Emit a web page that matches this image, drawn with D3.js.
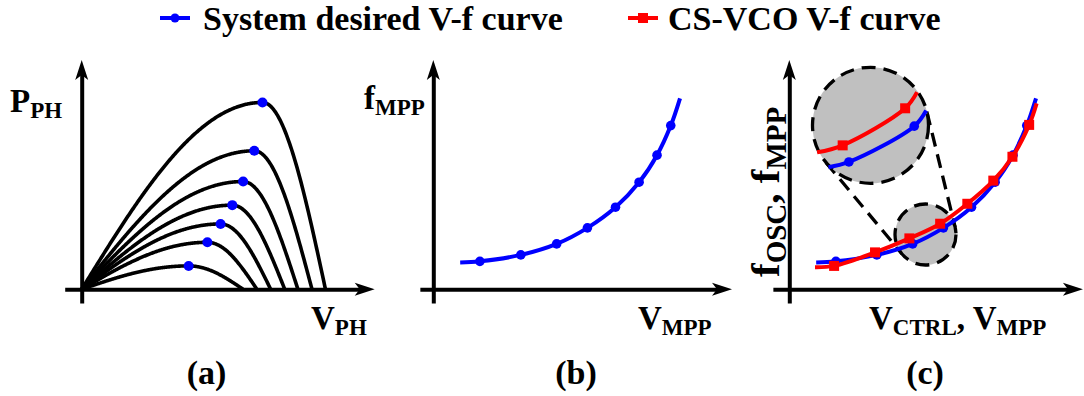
<!DOCTYPE html>
<html>
<head>
<meta charset="utf-8">
<script src="https://cdn.jsdelivr.net/npm/d3@7"></script>
<style>
  html, body { margin: 0; padding: 0; background: #fff; }
  svg { display: block; }
  text { font-family: "Liberation Serif", "Times New Roman", serif; font-weight: bold; fill: #000; }
</style>
</head>
<body>
<svg id="chart" width="1084" height="396"></svg>
<script>
// ---------- data (normalised units, 0..1 on each axis) ----------
// (a) P-V curves of the harvester at several irradiance levels
const pvOpenCircuitV = [0.551, 0.598, 0.645, 0.693, 0.738, 0.786, 0.832];
const pvMppV         = [0.365, 0.429, 0.474, 0.514, 0.551, 0.589, 0.617];
const pvMppP         = [0.102, 0.205, 0.285, 0.367, 0.470, 0.604, 0.815];

// (b)/(c) system desired V-f curve (first/last entries are line ends without markers)
const desiredV = [0.090, 0.156, 0.293, 0.413, 0.516, 0.610, 0.689, 0.749, 0.795, 0.826];
const desiredF = [0.117, 0.122, 0.150, 0.198, 0.268, 0.358, 0.467, 0.585, 0.714, 0.833];
const desiredMarked = [false, true, true, true, true, true, true, true, true, false];

// (c) CS-VCO V-f curve
const vcoV = [0.086, 0.150, 0.287, 0.402, 0.505, 0.596, 0.683, 0.747, 0.803, 0.828];
const vcoF = [0.096, 0.102, 0.161, 0.222, 0.286, 0.373, 0.474, 0.578, 0.717, 0.811];
const vcoMarked = [false, true, true, true, true, true, true, true, true, false];

// (c) magnified view (separation between the curves exaggerated)
const zoomDesiredV = [0.382, 0.418, 0.533, 0.554];
const zoomDesiredF = [0.143, 0.155, 0.237, 0.273];
const zoomVcoV = [0.362, 0.407, 0.517, 0.538];
const zoomVcoF = [0.177, 0.193, 0.278, 0.315];
const zoomMarked = [false, true, true, false];

const legendLabels = ["System desired V-f curve", "CS-VCO V-f curve"];
const panelTags = ["(a)", "(b)", "(c)"];

// ---------- layout ----------
const BLUE = "#0000ff", RED = "#ff0000", GREY = "#c0c0c0";
const FONT = 33, SUB = 23, SUB_DY = 6;
const AXIS_Y = 289.3, Y_LEN = 229.3, Y_MIN = -0.06;
const panels = {
  a: { ox: 81.7,  xLen: 293,   xMin: -0.058, xMax: 1.0 },
  b: { ox: 433.3, xLen: 298.7, xMin: -0.045, xMax: 1.0 },
  c: { ox: 789.3, xLen: 298.7, xMin: -0.055, xMax: 0.983 }
};

const svg = d3.select("#chart");

function scalesFor(p) {
  return {
    x: d3.scaleLinear().domain([0, 1]).range([p.ox, p.ox + p.xLen]),
    y: d3.scaleLinear().domain([0, 1]).range([AXIS_Y, AXIS_Y - Y_LEN])
  };
}

const ARROW = "M0,0L-20,-6.5L-15,0L-20,6.5Z";

function drawAxes(p, s) {
  const g = svg.append("g");
  const xa = d3.scaleLinear().domain([p.xMin, p.xMax]).range([s.x(p.xMin), s.x(p.xMax) - 12]);
  const ya = d3.scaleLinear().domain([Y_MIN, 1]).range([s.y(Y_MIN), s.y(1) + 12]);
  g.append("g").attr("transform", `translate(0,${s.y(0)})`)
    .call(d3.axisBottom(xa).tickValues([]).tickSizeOuter(0))
    .select(".domain").attr("stroke", "#000").attr("stroke-width", 4);
  g.append("g").attr("transform", `translate(${s.x(0)},0)`)
    .call(d3.axisLeft(ya).tickValues([]).tickSizeOuter(0))
    .select(".domain").attr("stroke", "#000").attr("stroke-width", 4);
  g.append("path").attr("d", ARROW)
    .attr("transform", `translate(${s.x(p.xMax)},${s.y(0)})`).attr("fill", "#000");
  g.append("path").attr("d", ARROW)
    .attr("transform", `translate(${s.x(0)},${s.y(1)}) rotate(-90)`).attr("fill", "#000");
}

// text with subscripts: parts = [[str, isSub], ...]
function richText(parent, x, y, parts, size, subSize, subDy) {
  const dyv = subDy || SUB_DY;
  const t = parent.append("text").attr("x", x).attr("y", y).attr("font-size", size || FONT);
  let inSub = false;
  parts.forEach(([str, sub]) => {
    const ts = t.append("tspan").text(str);
    if (sub) { ts.attr("font-size", subSize || SUB); if (!inSub) ts.attr("dy", dyv); }
    else if (inSub) ts.attr("dy", -dyv);
    inSub = sub;
  });
  return t;
}

function drawCurve(g, s, xs, ys, marked, color, markerType) {
  const pts = xs.map((v, i) => ({ v, f: ys[i], m: marked[i] }));
  const line = d3.line().x(d => s.x(d.v)).y(d => s.y(d.f)).curve(d3.curveCatmullRom.alpha(0.5));
  g.append("path").datum(pts).attr("d", line)
    .attr("fill", "none").attr("stroke", color).attr("stroke-width", 4);
  const mk = pts.filter(d => d.m);
  if (markerType === "circle") {
    g.selectAll(null).data(mk).enter().append("circle")
      .attr("cx", d => s.x(d.v)).attr("cy", d => s.y(d.f)).attr("r", 4.8).attr("fill", color);
  } else {
    g.selectAll(null).data(mk).enter().append("rect")
      .attr("x", d => s.x(d.v) - 5).attr("y", d => s.y(d.f) - 5)
      .attr("width", 10).attr("height", 10).attr("fill", color);
  }
}

// ---------- legend ----------
const legend = svg.append("g");
[[160, 203, BLUE, "circle"], [628, 668, RED, "rect"]].forEach(([lx, tx, col, type], i) => {
  legend.append("line").attr("x1", lx).attr("x2", lx + 30).attr("y1", 18).attr("y2", 18)
    .attr("stroke", col).attr("stroke-width", 4);
  if (type === "circle") legend.append("circle").attr("cx", lx + 15).attr("cy", 18).attr("r", 4.5).attr("fill", col);
  else legend.append("rect").attr("x", lx + 10).attr("y", 13).attr("width", 10).attr("height", 10).attr("fill", col);
  legend.append("text").attr("x", tx).attr("y", 30).attr("font-size", 34).text(legendLabels[i]);
});

// ---------- (a) P-V curves ----------
(function () {
  const p = panels.a, s = scalesFor(p);
  drawAxes(p, s);
  const g = svg.append("g");
  pvOpenCircuitV.forEach((voc, i) => {
    const vm = pvMppV[i], pm = pvMppP[i];
    // schematic arc: quarter-sine rise to the MPP, quarter-cosine fall to Voc
    const shape = v => v <= vm
      ? pm * Math.sin(Math.PI / 2 * v / vm)
      : pm * Math.cos(Math.PI / 2 * (v - vm) / (voc - vm));
    const pts = d3.range(0, 1.0001, 1 / 300).map(t => [t * voc, Math.max(0, shape(t * voc))]);
    g.append("path").datum(pts)
      .attr("d", d3.line().x(d => s.x(d[0])).y(d => s.y(d[1])))
      .attr("fill", "none").attr("stroke", "#000").attr("stroke-width", 3.6);
  });
  g.selectAll(null).data(pvMppV).enter().append("circle")
    .attr("cx", d => s.x(d)).attr("cy", (d, i) => s.y(pvMppP[i])).attr("r", 5).attr("fill", BLUE);
  richText(svg, 10, 112, [["P", false], ["PH", true]]);
  richText(svg, 311, 329.3, [["V", false], ["PH", true]]);
})();

// ---------- (b) desired V-f curve ----------
(function () {
  const p = panels.b, s = scalesFor(p);
  drawAxes(p, s);
  drawCurve(svg.append("g"), s, desiredV, desiredF, desiredMarked, BLUE, "circle");
  richText(svg, 364, 109, [["f", false], ["MPP", true]]);
  richText(svg, 638, 329.3, [["V", false], ["MPP", true]]);
})();

// ---------- (c) desired vs CS-VCO ----------
(function () {
  const p = panels.c, s = scalesFor(p);
  drawAxes(p, s);
  const g = svg.append("g");

  const small = { cx: s.x(0.456), cy: s.y(0.239), r: 30.5 };
  const big = { cx: 870.5, cy: 125.3, r: 58 };
  const k = big.r / small.r;

  // outer tangents between lens and magnified spot
  const dx = small.cx - big.cx, dy = small.cy - big.cy, d = Math.hypot(dx, dy);
  const ux = dx / d, uy = dy / d;
  const c = (big.r - small.r) / d, h = Math.sqrt(1 - c * c);
  [1, -1].forEach(sign => {
    const nx = ux * c - sign * h * uy, ny = uy * c + sign * h * ux;
    g.append("line")
      .attr("x1", big.cx + big.r * nx).attr("y1", big.cy + big.r * ny)
      .attr("x2", small.cx + small.r * nx).attr("y2", small.cy + small.r * ny)
      .attr("stroke", "#000").attr("stroke-width", 3.3).attr("stroke-dasharray", "14,8");
  });
  [small, big].forEach(cc => {
    g.append("circle").attr("cx", cc.cx).attr("cy", cc.cy).attr("r", cc.r)
      .attr("fill", GREY).attr("stroke", "#000").attr("stroke-width", 3.3)
      .attr("stroke-dasharray", "14,8");
  });

  drawCurve(g, s, desiredV, desiredF, desiredMarked, BLUE, "circle");
  drawCurve(g, s, vcoV, vcoF, vcoMarked, RED, "rect");

  // magnified view inside the lens
  const zs = {
    x: d3.scaleLinear().domain(s.x.domain()).range(s.x.range().map(v => big.cx + (v - small.cx) * k)),
    y: d3.scaleLinear().domain(s.y.domain()).range(s.y.range().map(v => big.cy + (v - small.cy) * k))
  };
  drawCurve(g, zs, zoomDesiredV, zoomDesiredF, zoomMarked, BLUE, "circle");
  drawCurve(g, zs, zoomVcoV, zoomVcoF, zoomMarked, RED, "rect");

  const ylab = svg.append("g").attr("transform", "translate(779,277) rotate(-90)");
  richText(ylab, 0, 0, [["f", false], ["OSC", true], [", f", false], ["MPP", true]], 41, 29, 7);
  richText(svg, 869, 329.3, [["V", false], ["CTRL", true], [", V", false], ["MPP", true]]);
})();

// ---------- panel tags ----------
[206.5, 576, 925].forEach((x, i) => {
  svg.append("text").attr("x", x).attr("y", 384).attr("font-size", 34)
    .attr("text-anchor", "middle").text(panelTags[i]);
});
</script>
</body>
</html>
